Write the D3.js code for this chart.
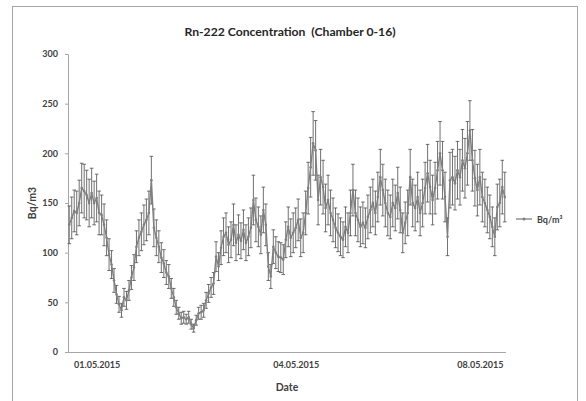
<!DOCTYPE html>
<html><head><meta charset="utf-8">
<script src="https://cdn.jsdelivr.net/npm/d3@7"></script>
<style>
html,body{margin:0;padding:0;background:#fff;}
svg{display:block;font-family:Lato,"Open Sans",sans-serif;}
</style></head>
<body>
<svg id="chart" width="586" height="401"></svg>
<script>
const title = "Rn-222 Concentration  (Chamber 0-16)";
const yTicks = [0, 50, 100, 150, 200, 250, 300];
const xTickLabels = ["01.05.2015", "04.05.2015", "08.05.2015"];
const xTickIndex = [11, 91, 165];
const seriesName = "Bq/m³";
const values = [128,135,142,140,150,165,162,158,150,160,150,155,140,138,128,115,98,88,72,58,48,42,55,52,62,75,85,106,115,121,128,133,140,173,
125,115,106,95,89,80,76,64,55,45,39,34,35,33,35,28,24,32,39,40,42,52,59,65,69,96,86,105,116,120,
108,113,128,110,118,112,123,110,116,125,153,133,126,118,143,128,86,76,106,100,96,95,93,113,126,115,120,125,133,115,
120,140,165,186,210,203,153,176,166,145,153,140,133,125,120,116,113,126,120,140,163,140,133,126,130,125,136,143,150,140,
156,176,163,150,140,136,150,145,160,143,120,130,140,176,150,145,156,140,150,165,180,166,153,165,183,200,183,156,116,173,
176,170,183,176,193,185,200,223,193,175,163,176,156,150,143,136,126,116,146,150,166,156];
const errors = [19,21,21,22,23,25,27,25,24,25,22,24,22,20,21,18,16,14,12,9,8,7,9,9,10,12,13,16,18,19,20,21,22,24,
19,18,16,15,14,12,12,10,9,7,6,6,6,5,6,5,4,5,6,7,7,8,9,10,11,15,14,17,19,20,
18,18,21,18,20,18,20,18,19,20,25,22,20,19,23,21,14,12,17,16,15,15,15,18,20,19,20,20,21,19,
20,22,26,30,32,30,25,28,27,24,25,23,22,20,19,19,18,20,20,23,26,23,22,20,21,20,22,23,24,22,
25,28,26,24,23,22,24,23,26,23,20,21,23,28,24,23,25,23,24,26,29,27,25,26,29,32,29,25,19,28,
28,27,29,28,31,30,32,30,31,28,26,28,25,24,23,22,20,19,23,24,27,25];

const svg = d3.select("#chart");
svg.append("rect").attr("x",0).attr("y",0).attr("width",586).attr("height",401).attr("fill","#fff");
svg.append("rect").attr("x",12.5).attr("y",6.5).attr("width",565).attr("height",420)
  .attr("fill","none").attr("stroke","#a6a6a6").attr("stroke-width",1);

const x = d3.scalePoint().domain(d3.range(values.length)).range([68, 506]).padding(0.5);
const y = d3.scaleLinear().domain([0, 300]).range([352, 54]);

// axes
const yAxis = svg.append("g").attr("transform","translate(68,0)")
  .call(d3.axisLeft(y).tickValues(yTicks).tickSize(3).tickPadding(7));
yAxis.select(".domain").attr("stroke","#a6a6a6");
yAxis.selectAll(".tick line").attr("stroke","#a6a6a6");
yAxis.selectAll(".tick text").attr("font-family","Lato, sans-serif").attr("font-size","9px")
  .attr("font-weight","bold").attr("fill","#404040");

const xAxis = svg.append("g").attr("transform","translate(0,352)")
  .call(d3.axisBottom(x).tickValues(xTickIndex).tickSize(0).tickPadding(10)
    .tickFormat(d=>xTickLabels[xTickIndex.indexOf(d)]));
xAxis.select(".domain").attr("stroke","#a6a6a6").attr("d","M68,0.5H506");
xAxis.selectAll(".tick text").attr("font-family","Lato, sans-serif").attr("font-size","9px")
  .attr("font-weight","bold").attr("fill","#404040");

// error bars
const eb = svg.append("g").attr("stroke","#4d4d4d").attr("stroke-width",0.8).attr("fill","none");
values.forEach((v,i)=>{
  const cx = x(i), y1 = y(v+errors[i]), y2 = y(v-errors[i]);
  eb.append("line").attr("x1",cx).attr("x2",cx).attr("y1",y1).attr("y2",y2);
  eb.append("line").attr("x1",cx-1.8).attr("x2",cx+1.8).attr("y1",y1).attr("y2",y1);
  eb.append("line").attr("x1",cx-1.8).attr("x2",cx+1.8).attr("y1",y2).attr("y2",y2);
});

// line
const line = d3.line().x((d,i)=>x(i)).y(d=>y(d));
svg.append("path").datum(values).attr("d",line).attr("fill","none")
  .attr("stroke","#7f7f7f").attr("stroke-width",1.4);
svg.append("g").selectAll("circle").data(values).join("circle")
  .attr("cx",(d,i)=>x(i)).attr("cy",d=>y(d)).attr("r",1.3).attr("fill","#808080");

// title
svg.append("text").attr("x",290).attr("y",36).attr("text-anchor","middle")
  .attr("font-size","12.2px").attr("font-weight","bold").attr("fill","#262626")
  .attr("xml:space","preserve").style("white-space","pre").text(title);
// axis titles
svg.append("text").attr("x",287).attr("y",391).attr("text-anchor","middle")
  .attr("font-size","10.5px").attr("font-weight","bold").attr("fill","#404040").text("Date");
svg.append("text").attr("transform","translate(36,203) rotate(-90)").attr("text-anchor","middle")
  .attr("font-size","10.5px").attr("font-weight","bold").attr("fill","#404040").text("Bq/m3");

// legend
const lg = svg.append("g");
lg.append("line").attr("x1",516).attr("x2",532).attr("y1",219).attr("y2",219)
  .attr("stroke","#7f7f7f").attr("stroke-width",1.3);
lg.append("circle").attr("cx",524).attr("cy",219).attr("r",1.5).attr("fill","#808080");
lg.append("text").attr("x",537).attr("y",222.5).attr("font-size","9px").attr("font-weight","bold")
  .attr("fill","#404040").text(seriesName);
</script>
</body></html>
